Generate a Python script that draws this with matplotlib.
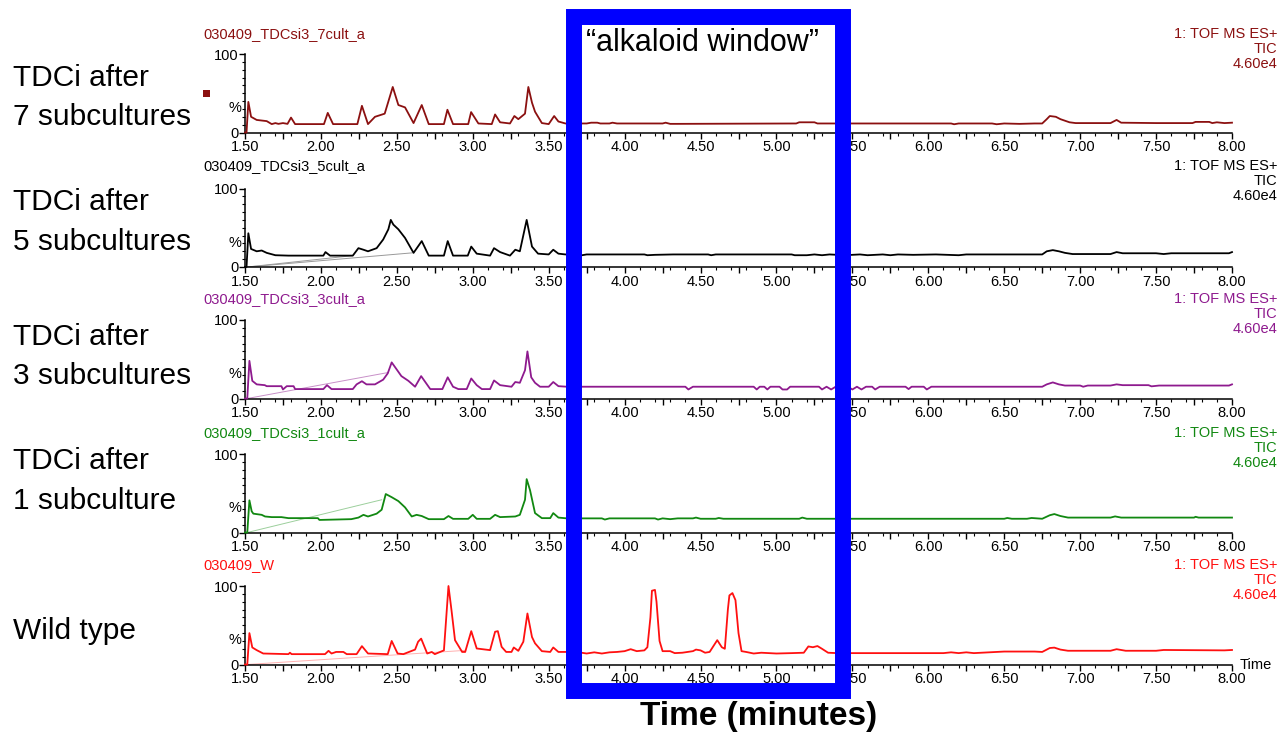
import matplotlib
matplotlib.use("Agg")
import matplotlib.pyplot as plt
from matplotlib.ticker import MultipleLocator, FuncFormatter
from matplotlib.patches import Rectangle

plt.rcParams['font.family'] = ['Liberation Sans', 'DejaVu Sans']

# ---------------- data (time in minutes, intensity in %) ----------------
t_7cult = [1.50, 1.51, 1.522, 1.54, 1.577, 1.643, 1.676, 1.70, 1.72, 1.75, 1.78, 1.803, 1.83, 2.02, 2.045,
           2.08, 2.24, 2.27, 2.31, 2.356, 2.42, 2.473, 2.51, 2.554, 2.61, 2.664, 2.71, 2.81, 2.833, 2.87,
           2.97, 2.989, 3.037, 3.125, 3.147, 3.18, 3.245, 3.274, 3.30, 3.344, 3.366, 3.39, 3.41, 3.455,
           3.50, 3.536, 3.564, 3.61, 3.75, 3.78, 3.82, 3.84, 3.90, 3.92, 3.95, 4.25, 4.27, 4.30, 4.35,
           5.13, 5.15, 5.25, 5.27, 6.15, 6.17, 6.20, 6.42, 6.45, 6.50, 6.60, 6.70, 6.75, 6.78, 6.80,
           6.84, 6.87, 6.90, 6.93, 6.97, 7.20, 7.24, 7.27, 7.50, 7.74, 7.76, 7.85, 7.87, 7.90, 7.95, 8.00]
i_7cult = [0, 0, 39, 20, 16, 14.5, 10.7, 12, 11, 12, 11, 19, 10.7, 10.7, 25,
           10.7, 10.7, 34, 10.7, 20, 24, 58, 35, 32, 12, 35, 10.7, 10.7, 29, 10.7,
           10.7, 26, 11.5, 10.7, 23, 13, 11.5, 21, 17, 24, 58, 38, 26.5, 12,
           10.7, 21, 14, 11.5, 11.5, 12.5, 12.5, 11.5, 11.5, 12.5, 11.5, 11.5, 12.5, 11, 11,
           11.5, 13, 13, 11.5, 11.5, 10.5, 11.5, 11.5, 10.5, 11.5, 11, 11.5, 11.5, 17, 21,
           20, 17, 15, 13, 12, 12, 16, 12.5, 12, 12, 13.5, 13.5, 12, 13, 12, 12.5]

t_5cult = [1.50, 1.51, 1.522, 1.54, 1.577, 1.61, 1.643, 1.70, 1.786, 2.016, 2.03, 2.06, 2.21, 2.247,
           2.28, 2.31, 2.367, 2.41, 2.444, 2.46, 2.477, 2.51, 2.554, 2.61, 2.664, 2.71, 2.81, 2.835,
           2.87, 2.967, 2.99, 3.026, 3.114, 3.14, 3.18, 3.245, 3.28, 3.31, 3.355, 3.39, 3.43, 3.50,
           3.53, 3.564, 3.61, 3.70, 3.72, 3.75, 4.13, 4.15, 4.20, 4.32, 4.55, 4.57, 4.60, 5.10, 5.12,
           5.20, 5.25, 5.30, 5.35, 5.45, 5.55, 5.60, 5.70, 5.75, 5.80, 5.90, 6.05, 6.20, 6.25, 6.75,
           6.78, 6.82, 6.86, 6.90, 6.95, 7.20, 7.24, 7.28, 7.50, 7.55, 7.60, 7.98, 8.00]
i_5cult = [0, 0, 43, 23, 20, 21, 18, 15, 14.5, 14.5, 19, 14.5, 14.5, 24,
           22, 20, 24, 35, 48, 60, 54, 48, 37, 18, 33, 14.5, 14.5, 33,
           14.5, 14.5, 26, 17, 14.5, 24, 19, 14.5, 22, 20, 60, 26, 17, 16,
           22, 17, 16, 16, 15, 16, 16, 15, 15.5, 16, 16, 15, 16, 16, 15,
           15, 16, 15, 16, 15, 16, 15, 16, 15, 16, 15.5, 16, 15, 16, 16,
           20, 21.5, 20, 18, 16.5, 16.5, 19, 17.5, 17.5, 16.5, 17.5, 17.5, 19]

t_3cult = [1.50, 1.515, 1.529, 1.548, 1.577, 1.63, 1.643, 1.74, 1.75, 1.775, 1.82, 1.83, 2.016, 2.04,
           2.07, 2.21, 2.235, 2.27, 2.30, 2.356, 2.41, 2.44, 2.466, 2.488, 2.53, 2.576, 2.62, 2.66,
           2.72, 2.80, 2.835, 2.87, 2.905, 2.96, 2.99, 3.026, 3.06, 3.114, 3.14, 3.18, 3.255, 3.28,
           3.31, 3.344, 3.36, 3.385, 3.41, 3.443, 3.50, 3.53, 3.564, 3.62, 4.40, 4.42, 4.45, 4.85,
           4.87, 4.89, 4.92, 4.94, 4.96, 5.02, 5.04, 5.07, 5.09, 5.28, 5.30, 5.33, 5.36, 5.39, 5.42,
           5.47, 5.50, 5.53, 5.56, 5.59, 5.63, 5.65, 5.68, 5.85, 5.87, 5.89, 5.97, 5.99, 6.02, 6.75,
           6.78, 6.82, 6.86, 6.90, 7.00, 7.02, 7.05, 7.20, 7.24, 7.28, 7.45, 7.47, 7.52, 7.98, 8.00]
i_3cult = [0, 0, 48, 22.5, 18, 17, 15.7, 15.7, 11.5, 15.7, 15.7, 12, 12, 17,
           12, 12, 18, 22, 18, 18, 24, 32, 46, 40, 28.5, 22.5, 15, 28.5,
           12, 12, 27, 15, 12, 12, 25.5, 17, 12, 12, 23, 17, 15, 21,
           20, 36, 60, 27, 20, 15, 15, 21, 15.7, 15, 15, 11.5, 15, 15,
           11.5, 15, 15, 11.5, 15, 15, 11.5, 11.5, 15, 15, 11.5, 15, 11.5, 15, 12,
           15, 11.5, 15, 11.5, 15, 15, 11.5, 15, 15, 12, 15, 15, 11.5, 15, 15,
           18, 20.5, 18, 16.5, 16.5, 15, 16.5, 16.5, 18, 17, 17, 15.5, 16.5, 16.5, 18]

t_1cult = [1.50, 1.515, 1.529, 1.544, 1.555, 1.61, 1.632, 1.676, 1.74, 1.786, 1.98, 1.99, 2.20, 2.247,
           2.28, 2.31, 2.367, 2.40, 2.427, 2.466, 2.51, 2.554, 2.598, 2.63, 2.664, 2.71, 2.81, 2.84,
           2.87, 2.97, 3.00, 3.026, 3.114, 3.147, 3.18, 3.28, 3.31, 3.344, 3.355, 3.377, 3.41, 3.455,
           3.51, 3.53, 3.564, 3.62, 3.85, 3.87, 3.90, 4.20, 4.22, 4.25, 4.30, 4.35, 4.45, 4.47, 4.50,
           4.60, 4.62, 4.65, 5.15, 5.17, 5.20, 6.50, 6.52, 6.55, 6.65, 6.68, 6.75, 6.80, 6.83, 6.87,
           6.92, 7.20, 7.23, 7.27, 7.75, 7.76, 7.78, 8.00]
i_1cult = [0, 0, 41, 27, 24, 22.5, 20.4, 19.6, 19.6, 18.3, 18.3, 16, 17, 19,
           22.5, 20.4, 24, 29, 49, 45, 40, 32, 20.4, 22.5, 21, 17, 17, 21,
           17.4, 17.4, 22.5, 17.4, 17.4, 22.5, 19.6, 20.4, 22.5, 41.7, 68, 54, 24.7, 18.3,
           18.3, 24.7, 19, 18, 18, 16.5, 18, 18, 16.5, 18, 17, 18, 18, 19, 17.5,
           17.5, 18.5, 17.5, 17.5, 19, 17.5, 17.5, 18.5, 17.5, 17.5, 18.5, 17.5, 22, 23.5, 21,
           19, 19, 20.5, 19, 19, 20, 19, 19]

t_wild = [1.50, 1.515, 1.529, 1.548, 1.577, 1.62, 1.786, 1.796, 1.807, 2.027, 2.05, 2.07, 2.10, 2.148,
          2.17, 2.235, 2.27, 2.31, 2.44, 2.466, 2.505, 2.543, 2.62, 2.64, 2.66, 2.70, 2.73, 2.75,
          2.81, 2.84, 2.86, 2.883, 2.93, 2.95, 2.99, 3.026, 3.114, 3.147, 3.165, 3.19, 3.22, 3.255,
          3.27, 3.30, 3.333, 3.36, 3.39, 3.41, 3.455, 3.51, 3.53, 3.564, 3.62, 3.70, 3.75, 3.80,
          3.85, 3.90, 3.95, 4.00, 4.04, 4.08, 4.13, 4.15, 4.17, 4.18, 4.20, 4.21, 4.23, 4.25, 4.30,
          4.33, 4.38, 4.45, 4.47, 4.50, 4.53, 4.56, 4.58, 4.61, 4.64, 4.66, 4.68, 4.69, 4.71, 4.73,
          4.75, 4.77, 4.80, 4.85, 4.90, 5.00, 5.10, 5.18, 5.21, 5.24, 5.27, 5.30, 5.34, 5.40, 6.10,
          6.15, 6.20, 6.25, 6.30, 6.40, 6.50, 6.70, 6.75, 6.80, 6.83, 6.87, 6.92, 7.20, 7.24, 7.30,
          7.50, 7.55, 7.95, 8.00]
i_wild = [0, 0, 40, 21.7, 18.3, 14, 13.2, 15, 13.2, 13.2, 17.4, 14, 16, 16,
          13.2, 13.2, 23.4, 14, 13.2, 30, 14, 13.2, 19, 29, 33, 14, 16, 13.2,
          18, 100, 69, 31, 16, 16, 42.5, 20.4, 18.3, 41.7, 42.5, 22.5, 16, 16,
          21.7, 17.4, 29, 65, 35, 27, 17, 16, 21.7, 16, 16, 15.5, 14, 15.5,
          14, 15.5, 16, 17, 19.5, 17, 18, 22, 60, 94, 95, 80, 30, 17, 17,
          14.5, 15, 17, 19, 18, 15, 16, 22, 31, 22, 20, 70, 88, 91, 82,
          40, 17, 16, 14, 15, 14, 14.5, 15, 23, 22, 23.5, 20, 15, 14.5, 14.5,
          15.5, 14.5, 15.5, 14.5, 15.5, 16.5, 16.5, 16, 21, 21.5, 19, 17.5, 17.5, 19.5, 17.5,
          17.5, 18.5, 18, 18.5]

# faint baseline-construction lines drawn by the software (start, end)
base_5cult_a_t = [1.515, 2.21]
base_5cult_a_i = [0, 14.5]
base_5cult_b_t = [1.515, 2.60]
base_5cult_b_i = [0, 18]
base_3cult_t = [1.515, 2.44]
base_3cult_i = [0, 33]
base_1cult_t = [1.515, 2.40]
base_1cult_i = [0, 41.7]
base_wild_t = [1.515, 2.95]
base_wild_i = [0, 18]

row_labels = [("TDCi after", "7 subcultures"), ("TDCi after", "5 subcultures"),
              ("TDCi after", "3 subcultures"), ("TDCi after", "1 subculture"), ("Wild type", None)]
file_labels = ["030409_TDCsi3_7cult_a", "030409_TDCsi3_5cult_a", "030409_TDCsi3_3cult_a",
               "030409_TDCsi3_1cult_a", "030409_W"]
right_labels = ["1: TOF MS ES+", "TIC", "4.60e4"]

series = [(t_7cult, i_7cult), (t_5cult, i_5cult), (t_3cult, i_3cult), (t_1cult, i_1cult), (t_wild, i_wild)]
faint = [[], [(base_5cult_a_t, base_5cult_a_i), (base_5cult_b_t, base_5cult_b_i)],
         [(base_3cult_t, base_3cult_i)], [(base_1cult_t, base_1cult_i)], [(base_wild_t, base_wild_i)]]
colors = ["#8b1010", "#000000", "#8e1a8e", "#118811", "#ff1010"]
faint_colors = ["#8b1010", "#999999", "#c890c8", "#9ccf9c", "#ffb0b0"]

# ---------------- layout ----------------
W, H = 1280, 736
fig = plt.figure(figsize=(W / 100, H / 100), dpi=100)


def fx(x):
    return x / W


def fy(y):
    return 1 - y / H


zero_px = [132.5, 267.0, 398.5, 532.5, 664.5]
panel_h = 78.5
x_left, x_right = 245, 1232

label_y = [(86, 125), (210, 250), (345, 384), (469, 509), (639, None)]
head_y = [34, 166, 299, 433, 565]

small = 10.5

for k in range(5):
    ax = fig.add_axes([fx(x_left), fy(zero_px[k]), (x_right - x_left) / W, panel_h / H])
    t, v = series[k]
    for (ft, fi) in faint[k]:
        ax.plot(ft, fi, color=faint_colors[k], lw=0.7, zorder=1)
    ax.plot(t, v, color=colors[k], lw=1.3, clip_on=False, zorder=3)
    ax.set_xlim(1.5, 8.0)
    ax.set_ylim(0, 100)
    for s in ["top", "right"]:
        ax.spines[s].set_visible(False)
    for s in ["left", "bottom"]:
        ax.spines[s].set_linewidth(1.1)
    ax.xaxis.set_major_locator(MultipleLocator(0.25))
    ax.xaxis.set_minor_locator(MultipleLocator(0.1))
    ax.xaxis.set_major_formatter(FuncFormatter(
        lambda val, pos: f"{val:.2f}" if abs(val * 2 - round(val * 2)) < 1e-6 else ""))
    ax.yaxis.set_major_locator(MultipleLocator(100))
    ax.yaxis.set_minor_locator(MultipleLocator(10))
    ax.yaxis.set_major_formatter(FuncFormatter(lambda val, pos: f"{val:.0f}"))
    ax.tick_params(axis="x", which="major", length=4, width=1, direction="out", pad=1.5, labelsize=small)
    ax.tick_params(axis="x", which="minor", length=2, width=0.8, direction="out")
    ax.tick_params(axis="y", which="major", length=4, width=1, direction="out", pad=0.5, labelsize=small)
    ax.tick_params(axis="y", which="minor", length=2.5, width=0.8, direction="out")
    ax.text(-0.004, 0.31, "%", transform=ax.transAxes, ha="right", va="center", fontsize=small)
    ax.patch.set_alpha(0)

    # headers
    fig.text(fx(203), fy(head_y[k]), file_labels[k], color=colors[k], fontsize=small, va="center", ha="left")
    for j, lab in enumerate(right_labels):
        fig.text(fx(1277), fy(head_y[k] + j * 15), lab, color=colors[k], fontsize=small,
                 va="center", ha="right")

    # row labels
    l1, l2 = row_labels[k]
    y1, y2 = label_y[k]
    fig.text(fx(13), fy(y1), l1, fontsize=21.5, va="baseline", ha="left")
    if l2:
        fig.text(fx(13), fy(y2), l2, fontsize=21.5, va="baseline", ha="left")

# small decorations
fig.add_artist(Rectangle((fx(203), fy(97)), 7 / W, 7 / H, transform=fig.transFigure,
                         facecolor="#8b1010", edgecolor="none"))
fig.text(fx(1240), fy(665), "Time", fontsize=small, va="center", ha="left")

# alkaloid window box
rect = Rectangle((fx(573.5), fy(690.5)), (843 - 573.5) / W, (690.5 - 16.5) / H,
                 transform=fig.transFigure, fill=False, edgecolor="#0000ff", linewidth=11.5,
                 joinstyle="miter", zorder=10)
fig.add_artist(rect)
fig.text(fx(586), fy(43), "\u201calkaloid window\u201d", fontsize=22, va="center", ha="left", zorder=11)

fig.text(fx(759), fy(717), "Time (minutes)", fontsize=24, fontweight="bold", va="center", ha="center")

fig.savefig("out.png", dpi=100)
